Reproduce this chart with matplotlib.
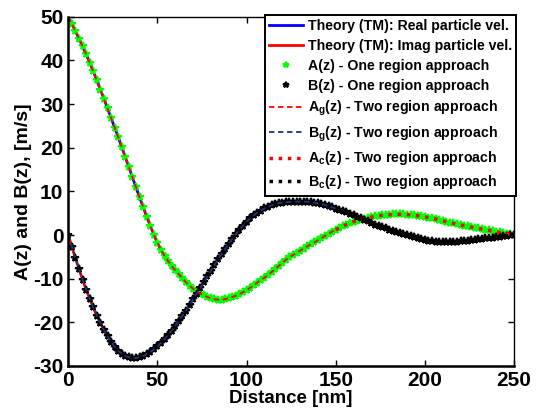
import numpy as np
import matplotlib
matplotlib.use("Agg")
import matplotlib.pyplot as plt

# fuente tipo Helvetica en negrita, como MATLAB
plt.rcParams['font.family'] = ['Liberation Sans', 'DejaVu Sans']
plt.rcParams['font.weight'] = 'bold'
plt.rcParams['axes.unicode_minus'] = False
plt.rcParams['mathtext.fontset'] = 'custom'
plt.rcParams['mathtext.rm'] = 'Liberation Sans:bold'
plt.rcParams['mathtext.it'] = 'Liberation Sans:bold'
plt.rcParams['mathtext.bf'] = 'Liberation Sans:bold'

# distancia [nm], paso de 2 nm
z = np.arange(0, 252, 2)

# A(z): parte real de la velocidad [m/s]
A = [50.0, 48.4, 46.7, 45.0, 43.2, 41.4, 39.5, 37.5, 35.4, 33.3, 31.2, 29.0, 26.8,
     24.6, 22.4, 20.1, 17.8, 15.5, 13.2, 10.9, 8.6, 6.4, 4.2, 2.1, 0.1,
     -1.8, -3.4, -4.8, -6.0, -7.1, -8.1, -9.0, -9.9, -10.8, -11.6, -12.3, -12.9, -13.4,
     -13.8, -14.2, -14.5, -14.7, -14.8, -14.8, -14.7, -14.5, -14.2, -13.9, -13.5, -13.1,
     -12.6, -12.1, -11.5, -10.9, -10.3, -9.8, -9.2, -8.5, -7.8, -7.1, -6.4, -5.7, -5.1,
     -4.6, -4.1, -3.6, -3.1, -2.6, -2.1, -1.7, -1.2, -0.7, -0.2, 0.3, 0.8,
     1.2, 1.6, 2.0, 2.4, 2.75, 3.05, 3.3, 3.55, 3.75, 3.95, 4.1, 4.25, 4.4,
     4.5, 4.6, 4.65, 4.7, 4.75, 4.75, 4.72, 4.68, 4.6, 4.52, 4.42, 4.3,
     4.15, 4.0, 3.85, 3.65, 3.45, 3.25, 3.05, 2.85, 2.65, 2.45, 2.3, 2.15, 2.0,
     1.8, 1.65, 1.5, 1.35, 1.2, 1.05, 0.9, 0.75, 0.6, 0.45, 0.3, 0.15, 0.0]

# B(z): parte imaginaria de la velocidad [m/s]
B = [0.0, -2.7, -5.3, -7.8, -10.2, -12.5, -14.6, -16.6, -18.5, -20.2, -21.8, -23.2, -24.5,
     -25.6, -26.5, -27.2, -27.7, -28.0, -28.2, -28.2, -28.0, -27.7, -27.3, -26.8, -26.2,
     -25.5, -24.7, -23.8, -22.9, -21.9, -20.8, -19.7, -18.5, -17.3, -16.0, -14.7, -13.4, -12.1,
     -10.8, -9.5, -8.2, -6.9, -5.6, -4.4, -3.2, -2.0, -0.9, 0.2, 1.2, 2.1,
     3.0, 3.8, 4.5, 5.1, 5.6, 6.1, 6.5, 6.8, 7.1, 7.3, 7.42, 7.52, 7.58,
     7.62, 7.65, 7.66, 7.65, 7.6, 7.52, 7.42, 7.28, 7.1, 6.88, 6.62, 6.35,
     6.07, 5.78, 5.48, 5.17, 4.85, 4.52, 4.18, 3.83, 3.48, 3.1, 2.75, 2.4, 2.1,
     1.8, 1.5, 1.2, 0.95, 0.7, 0.45, 0.2, 0.0, -0.2, -0.45, -0.75, -1.0,
     -1.15, -1.3, -1.4, -1.5, -1.55, -1.6, -1.6, -1.6, -1.55, -1.5, -1.45, -1.4, -1.3,
     -1.2, -1.1, -1.0, -0.9, -0.8, -0.7, -0.6, -0.5, -0.4, -0.3, -0.2, -0.1, 0.0]

A = np.array(A)
B = np.array(B)

# frontera entre las dos regiones [nm]
z_frontera = 150
g = z <= z_frontera
c = z >= z_frontera

fig = plt.figure(figsize=(5.43, 4.11), dpi=100)
ax = fig.add_axes([0.1258, 0.1095, 0.8208, 0.8499])

ax.plot(z, A, color='blue', lw=2, label='Theory (TM): Real particle vel.')
ax.plot(z, B, color='red', lw=2, label='Theory (TM): Imag particle vel.')
ax.plot(z, A, ls='none', marker='*', ms=5.5, mew=1.5, color='#00ff00',
        label='A(z) - One region approach')
ax.plot(z, B, ls='none', marker='*', ms=5.5, mew=1.5, color='black',
        label='B(z) - One region approach')
ax.plot(z[g], A[g], color='red', ls='--', lw=1.3, dashes=(3, 2),
        label=r'A$_g$(z) - Two region approach')
ax.plot(z[g], B[g], color='#1a3580', ls='--', lw=1.3, dashes=(3, 2),
        label=r'B$_g$(z) - Two region approach')
ax.plot(z[c], A[c], color='red', ls=':', lw=2.5, label=r'A$_c$(z) - Two region approach')
ax.plot(z[c], B[c], color='black', ls=':', lw=2.5, label=r'B$_c$(z) - Two region approach')

ax.set_xlim(0, 250)
ax.set_ylim(-30, 50)
ax.set_xticks(range(0, 251, 50))
ax.set_yticks(range(-30, 51, 10))
ax.tick_params(direction='in', top=True, right=True, labelsize=15, length=4, width=1)
for lbl in ax.get_xticklabels() + ax.get_yticklabels():
    lbl.set_fontweight('bold')
for lado in ['left', 'bottom']:
    ax.spines[lado].set_linewidth(1.8)
for lado in ['top', 'right']:
    ax.spines[lado].set_linewidth(1.0)

ax.set_xlabel('Distance [nm]', fontsize=13.5, fontweight='bold', labelpad=0)
ax.set_ylabel('A(z) and B(z), [m/s]', fontsize=14, fontweight='bold', labelpad=1)

leg = ax.legend(loc='upper right', bbox_to_anchor=(1.005, 1.005), fontsize=10.2,
                frameon=True, fancybox=False, edgecolor='black', borderaxespad=0,
                handlelength=2.4, handletextpad=0.3, labelspacing=0.42,
                borderpad=0.3, markerscale=0.8)
leg.get_frame().set_linewidth(1.4)
leg.get_frame().set_alpha(1)

fig.savefig('out.png', dpi=100)
